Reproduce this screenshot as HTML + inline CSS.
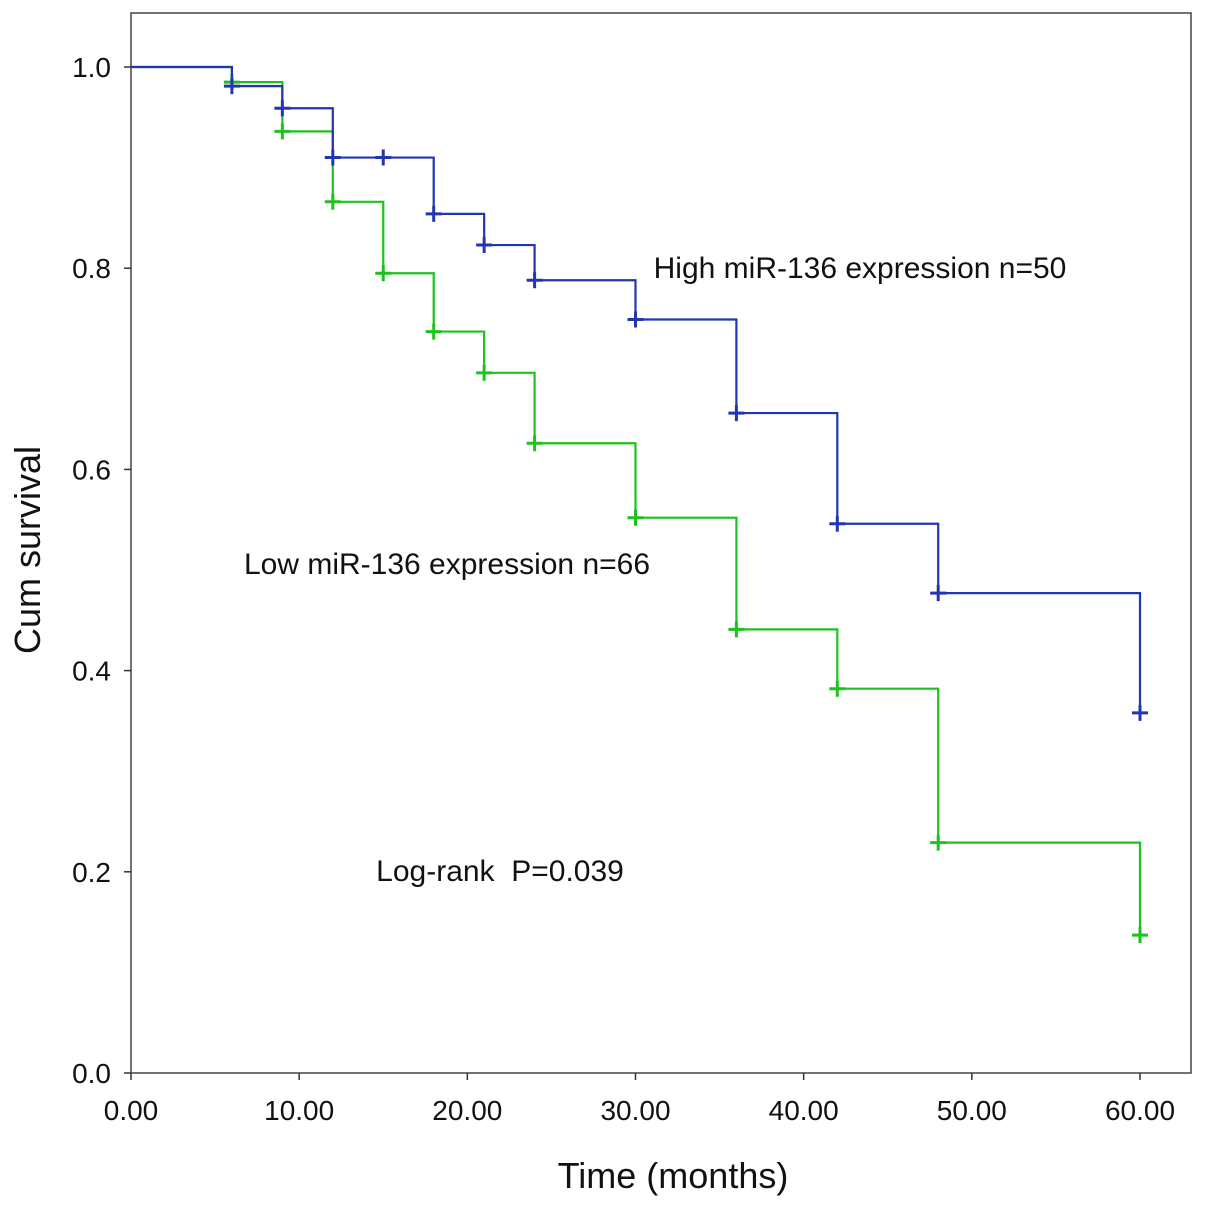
<!DOCTYPE html>
<html><head><meta charset="utf-8"><style>
body{margin:0;background:#fff}
svg text{font-family:"Liberation Sans",Arial,sans-serif;fill:#111}
</style></head><body>
<svg id="chart" width="1205" height="1207" xmlns="http://www.w3.org/2000/svg">
<rect x="131" y="13" width="1060" height="1060" fill="none" stroke="#444" stroke-width="1.5"/>
<g id="axes"></g>
<g id="series"></g>
<text x="860" y="278" font-size="30" text-anchor="middle">High miR-136 expression n=50</text>
<text x="447" y="574" font-size="30" text-anchor="middle">Low miR-136 expression n=66</text>
<text x="500" y="881" font-size="30" text-anchor="middle" xml:space="preserve">Log-rank  P=0.039</text>
<text x="673" y="1188" font-size="36" text-anchor="middle">Time (months)</text>
<text x="0" y="0" font-size="36" text-anchor="middle" transform="translate(40,550) rotate(-90)">Cum survival</text>
</svg>
<script>
const xTicks=[0,10,20,30,40,50,60];
const xTickLabels=["0.00","10.00","20.00","30.00","40.00","50.00","60.00"];
const yTicks=[0,0.2,0.4,0.6,0.8,1.0];
const yTickLabels=["0.0","0.2","0.4","0.6","0.8","1.0"];
const highTimes=[6,9,12,18,21,24,30,36,42,48,60];
const highSurv=[0.981,0.959,0.910,0.854,0.823,0.788,0.749,0.656,0.546,0.477,0.358];
const highCensor=[6,9,12,15,18,21,24,30,36,42,48,60];
const lowTimes=[6,9,12,15,18,21,24,30,36,42,48,60];
const lowSurv=[0.985,0.936,0.866,0.795,0.737,0.696,0.626,0.552,0.441,0.382,0.229,0.137];
const lowCensor=[6,9,12,15,18,21,24,30,36,42,48,60];
const NS="http://www.w3.org/2000/svg";
const X=t=>131+t*(1140-131)/60;
const Y=v=>1073-v*(1073-67);
function mk(tag,attrs,parent){const e=document.createElementNS(NS,tag);for(const k in attrs)e.setAttribute(k,attrs[k]);parent.appendChild(e);return e;}
const axes=document.getElementById('axes');
xTicks.forEach((t,i)=>{
  const l=mk('line',{x1:X(t),x2:X(t),y1:1073,y2:1080,stroke:'#333','stroke-width':1.5},axes);
  
  
  const tx=mk('text',{x:X(t),y:1120,'font-size':28,'text-anchor':'middle'},axes);
  tx.textContent=xTickLabels[i];
  
  
});
yTicks.forEach((v,i)=>{
  const l=mk('line',{x1:124,x2:131,y1:Y(v),y2:Y(v),stroke:'#333','stroke-width':1.5},axes);
  
  
  const tx=mk('text',{x:111,y:Y(v)+10,'font-size':28,'text-anchor':'end'},axes);
  tx.textContent=yTickLabels[i];
  
  
});
const series=document.getElementById('series');
function survAt(times,surv,t){let s=1;for(let i=0;i<times.length;i++){if(times[i]<=t)s=surv[i];}return s;}
function draw(times,surv,cens,color,name){
  let d=`M${X(0)},${Y(1)}`;
  times.forEach((t,i)=>{d+=` H${X(t)} V${Y(surv[i])}`;});
  const p=mk('path',{d:d,fill:'none',stroke:color,'stroke-width':2.2},series);
  
  
  cens.forEach(t=>{
    const v=survAt(times,surv,t);
    const g=mk('path',{d:`M${X(t)-8},${Y(v)} H${X(t)+8} M${X(t)},${Y(v)-8} V${Y(v)+8}`,stroke:color,'stroke-width':3,fill:'none'},series);
    
    
  });
}
draw(lowTimes,lowSurv,lowCensor,'#1ec21e','low-expression');
draw(highTimes,highSurv,highCensor,'#2236b0','high-expression');
</script>
</body></html>
